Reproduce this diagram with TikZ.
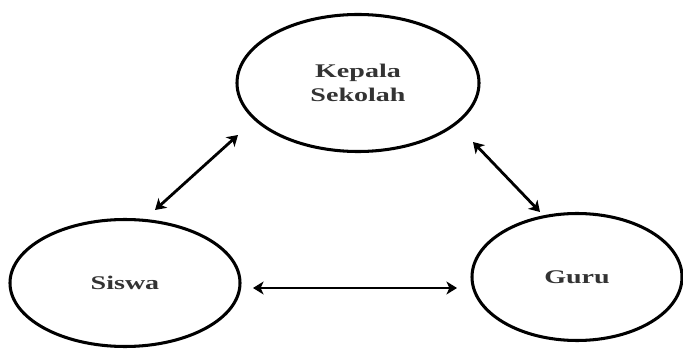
\documentclass[tikz,border=0pt]{standalone}
\usepackage{fontspec}
\setmainfont{Liberation Serif}[FakeStretch=1.45]
\usetikzlibrary{shapes.geometric, arrows.meta, positioning}
\tikzset{
    actor/.style={ellipse, draw=black, line width=2.6pt, inner sep=0pt, align=center, font=\fontsize{16.5}{21}\selectfont\bfseries, text=black!80},
    arrow/.style={line width=2.4pt,{Stealth[length=9pt,width=11pt,inset=2.5pt]}-{Stealth[length=9pt,width=11pt,inset=2.5pt]}}
}
\begin{document}
\begin{tikzpicture}[x=0.03cm, y=-0.03cm]
    \useasboundingbox (0,0) rectangle (683,349);

    \node (kepala) [actor, minimum width=7.26cm, minimum height=4.11cm] at (358,83) {Kepala\\Sekolah};
    \node (siswa) [actor, minimum width=6.9cm, minimum height=3.81cm] at (125,283) {Siswa};
    \node (guru) [actor, minimum width=6.3cm, minimum height=3.81cm] at (577,277) {Guru};

    % ends of the connectors, off the ellipses
    \coordinate (s1) at (155,210);
    \coordinate (k1) at (238,135);
    \coordinate (k2) at (473,142);
    \coordinate (g1) at (540,212);
    \coordinate (s2) at (253,288);
    \coordinate (g2) at (457,288);

    \draw [arrow] (s1) -- (k1);
    \draw [arrow] (k2) -- (g1);
    \draw [arrow] (s2) -- (g2);
\end{tikzpicture}
\end{document}
